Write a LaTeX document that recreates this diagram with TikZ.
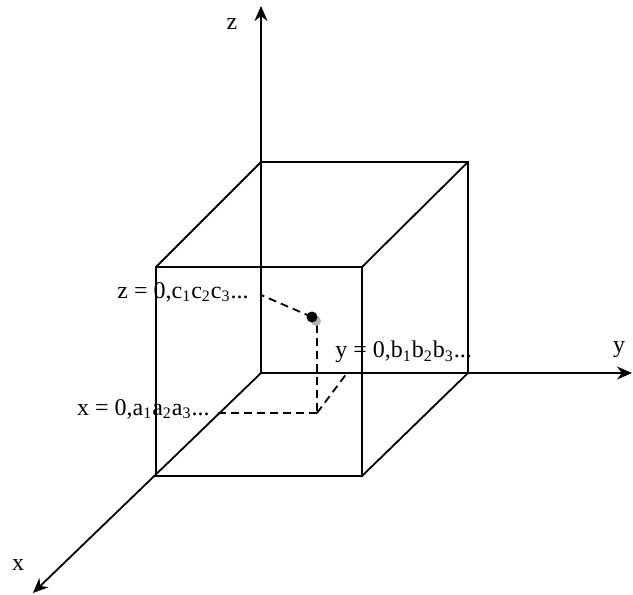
\documentclass[tikz,border=0pt]{standalone}
\usepackage{fontspec}
\setmainfont{Liberation Serif}
\usepackage{tikz}
\usetikzlibrary{arrows.meta,positioning}
\tikzset{
  axisarr/.style={-{Stealth[length=7.5pt,width=6.5pt]}, line width=0.9pt, black},
  cubeedge/.style={line width=0.9pt, black, line join=miter},
  projline/.style={line width=0.9pt, black, dash pattern=on 4pt off 2.5pt},
  coordlabel/.style={font=\fontsize{12}{14}\selectfont, inner sep=0pt},
  axislabel/.style={font=\fontsize{12}{14}\selectfont, inner sep=0pt}
}
\begin{document}
\begin{tikzpicture}[x=0.5pt, y=-0.5pt]
\useasboundingbox (0,0) rectangle (633,595);
\coordinate (orig) at (261,373);
\coordinate (zend) at (261,6);
\coordinate (yend) at (632,373);
\coordinate (xend) at (33,593);
\coordinate (backtl) at (261,162);
\coordinate (backtr) at (468,162);
\coordinate (backbr) at (468,373);
\coordinate (fronttl) at (156,267);
\coordinate (fronttr) at (362,267);
\coordinate (frontbr) at (362,476);
\coordinate (frontbl) at (156,476);
\coordinate (pt) at (312,317);
\coordinate (ptshadow) at (316,321);
\coordinate (zfoot) at (261,295);
\coordinate (base) at (317,413);
\coordinate (yfoot) at (347,373);
\coordinate (xfoot) at (216,413);
\draw[cubeedge] (fronttl) -- (fronttr) -- (frontbr) -- (frontbl) -- cycle;
\draw[cubeedge] (backtl) -- (backtr) -- (backbr);
\draw[cubeedge] (fronttl) -- (backtl);
\draw[cubeedge] (fronttr) -- (backtr);
\draw[cubeedge] (frontbr) -- (backbr);
\draw[axisarr] (orig) -- (zend);
\draw[axisarr] (orig) -- (yend);
\draw[axisarr] (orig) -- (xend);
\node[axislabel] (zname) at (232,24) {z};
\node[axislabel] (yname) at (619,350) {y};
\node[axislabel] (xname) at (18,565) {x};
\draw[projline] (pt) -- (zfoot);
\draw[projline] (317,325) -- (base);
\draw[projline] (base) -- (yfoot);
\draw[projline] (base) -- (xfoot);
\fill[black!30] (ptshadow) circle (5);
\fill[black] (pt) circle (5.5);
\node[coordlabel, anchor=east] (zval) at (249,292) {z = 0,c\textsubscript{1}c\textsubscript{2}c\textsubscript{3}...};
\node[coordlabel, anchor=west] (yval) at (335,352) {y = 0,b\textsubscript{1}b\textsubscript{2}b\textsubscript{3}...};
\node[coordlabel, anchor=east] (xval) at (210,409) {x = 0,a\textsubscript{1}a\textsubscript{2}a\textsubscript{3}...};
\end{tikzpicture}
\end{document}
